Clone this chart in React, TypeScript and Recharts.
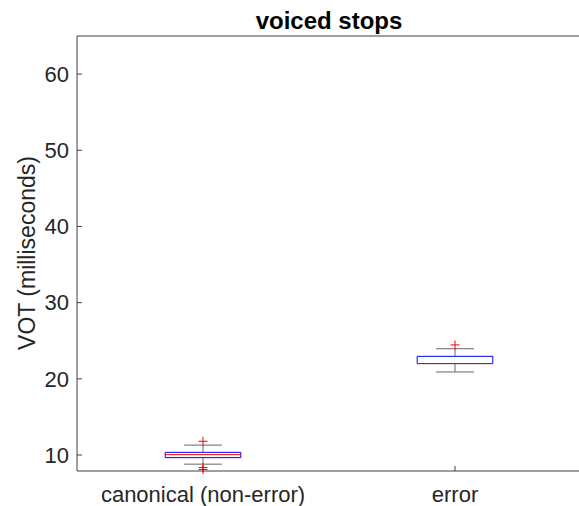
import React from 'react';
import {
  ComposedChart,
  XAxis,
  YAxis,
  Scatter,
  ReferenceArea,
  ReferenceLine,
} from 'recharts';

const categories = ['canonical (non-error)', 'error'];
const lowerWhisker = [8.8, 20.9];
const q1 = [9.65, 22];
const median = [10.05, 22];
const q3 = [10.35, 22.95];
const upperWhisker = [11.3, 23.95];
const outliers = [[11.8, 8.35, 8.1], [24.45]];
const yTicks = [10, 20, 30, 40, 50, 60];

const axisColor = '#404040';
const textColor = '#262626';
const font = '"Liberation Sans", Arial, sans-serif';
const boxHalf = 0.15;
const capHalf = 0.075;

const outlierPoints = outliers.flatMap((vals, i) => vals.map((v) => ({ x: i + 1, y: v })));

const Plus = (props: any) => {
  const { cx, cy } = props;
  return (
    <path
      d={`M${cx - 4.5},${cy}h9M${cx},${cy - 4.5}v9`}
      stroke="#ff0000"
      strokeWidth={1}
      fill="none"
    />
  );
};

export default function App() {
  return (
    <div
      style={{
        position: 'absolute',
        left: 0,
        top: 0,
        width: 579,
        height: 506,
        overflow: 'hidden',
        background: '#fff',
        fontFamily: font,
      }}
    >
      <ComposedChart
        width={582}
        height={506}
        margin={{ top: 35, right: 0, bottom: 0, left: 0 }}
        style={{ fontFamily: font }}
      >
        <XAxis
          xAxisId="b"
          type="number"
          dataKey="x"
          domain={[0.5, 2.5]}
          ticks={[1, 2]}
          tickFormatter={(v) => categories[v - 1]}
          height={35}
          stroke={axisColor}
          tickSize={-5}
          tickMargin={20.5}
          tick={{ fill: textColor, fontSize: 22 }}
          interval={0}
        />
        <XAxis
          xAxisId="t"
          orientation="top"
          type="number"
          dataKey="x"
          domain={[0.5, 2.5]}
          ticks={[1, 2]}
          height={1}
          stroke={axisColor}
          tickSize={-5}
          tick={() => <g />}
        />
        <YAxis
          yAxisId="l"
          type="number"
          domain={[7.9, 65]}
          ticks={yTicks}
          width={77}
          stroke={axisColor}
          tickSize={-5}
          tickMargin={13}
          tick={{ fill: textColor, fontSize: 22 }}
          interval={0}
        />
        <YAxis
          yAxisId="r"
          orientation="right"
          type="number"
          domain={[7.9, 65]}
          ticks={yTicks}
          width={1}
          stroke={axisColor}
          tickSize={-5}
          tick={() => <g />}
        />
        {categories.map((c, i) => {
          const x = i + 1;
          return (
            <React.Fragment key={c}>
              <ReferenceLine
                xAxisId="b"
                yAxisId="l"
                segment={[{ x, y: q3[i] }, { x, y: upperWhisker[i] }]}
                stroke="#666"
              />
              <ReferenceLine
                xAxisId="b"
                yAxisId="l"
                segment={[{ x, y: lowerWhisker[i] }, { x, y: q1[i] }]}
                stroke="#666"
              />
              <ReferenceLine
                xAxisId="b"
                yAxisId="l"
                segment={[{ x: x - capHalf, y: upperWhisker[i] }, { x: x + capHalf, y: upperWhisker[i] }]}
                stroke="#666"
              />
              <ReferenceLine
                xAxisId="b"
                yAxisId="l"
                segment={[{ x: x - capHalf, y: lowerWhisker[i] }, { x: x + capHalf, y: lowerWhisker[i] }]}
                stroke="#666"
              />
              <ReferenceArea
                xAxisId="b"
                yAxisId="l"
                x1={x - boxHalf}
                x2={x + boxHalf}
                y1={q1[i]}
                y2={q3[i]}
                fill="none"
                fillOpacity={0}
                stroke="#0000ff"
                strokeOpacity={1}
              />
              <ReferenceLine
                xAxisId="b"
                yAxisId="l"
                segment={[{ x: x - boxHalf, y: median[i] }, { x: x + boxHalf, y: median[i] }]}
                stroke="#ff0000"
              />
            </React.Fragment>
          );
        })}
        <Scatter
          xAxisId="b"
          yAxisId="l"
          data={outlierPoints}
          dataKey="y"
          shape={<Plus />}
          isAnimationActive={false}
        />
      </ComposedChart>
      <svg
        width={579}
        height={506}
        style={{ position: 'absolute', left: 0, top: 0, pointerEvents: 'none' }}
      >
        <text
          x={329}
          y={29}
          textAnchor="middle"
          fontWeight="bold"
          fontSize={24}
          fill="#000"
          fontFamily={font}
        >
          voiced stops
        </text>
        <text
          transform="translate(35,253) rotate(-90)"
          textAnchor="middle"
          fontSize={23}
          fill={textColor}
          fontFamily={font}
        >
          VOT (milliseconds)
        </text>
      </svg>
    </div>
  );
}
